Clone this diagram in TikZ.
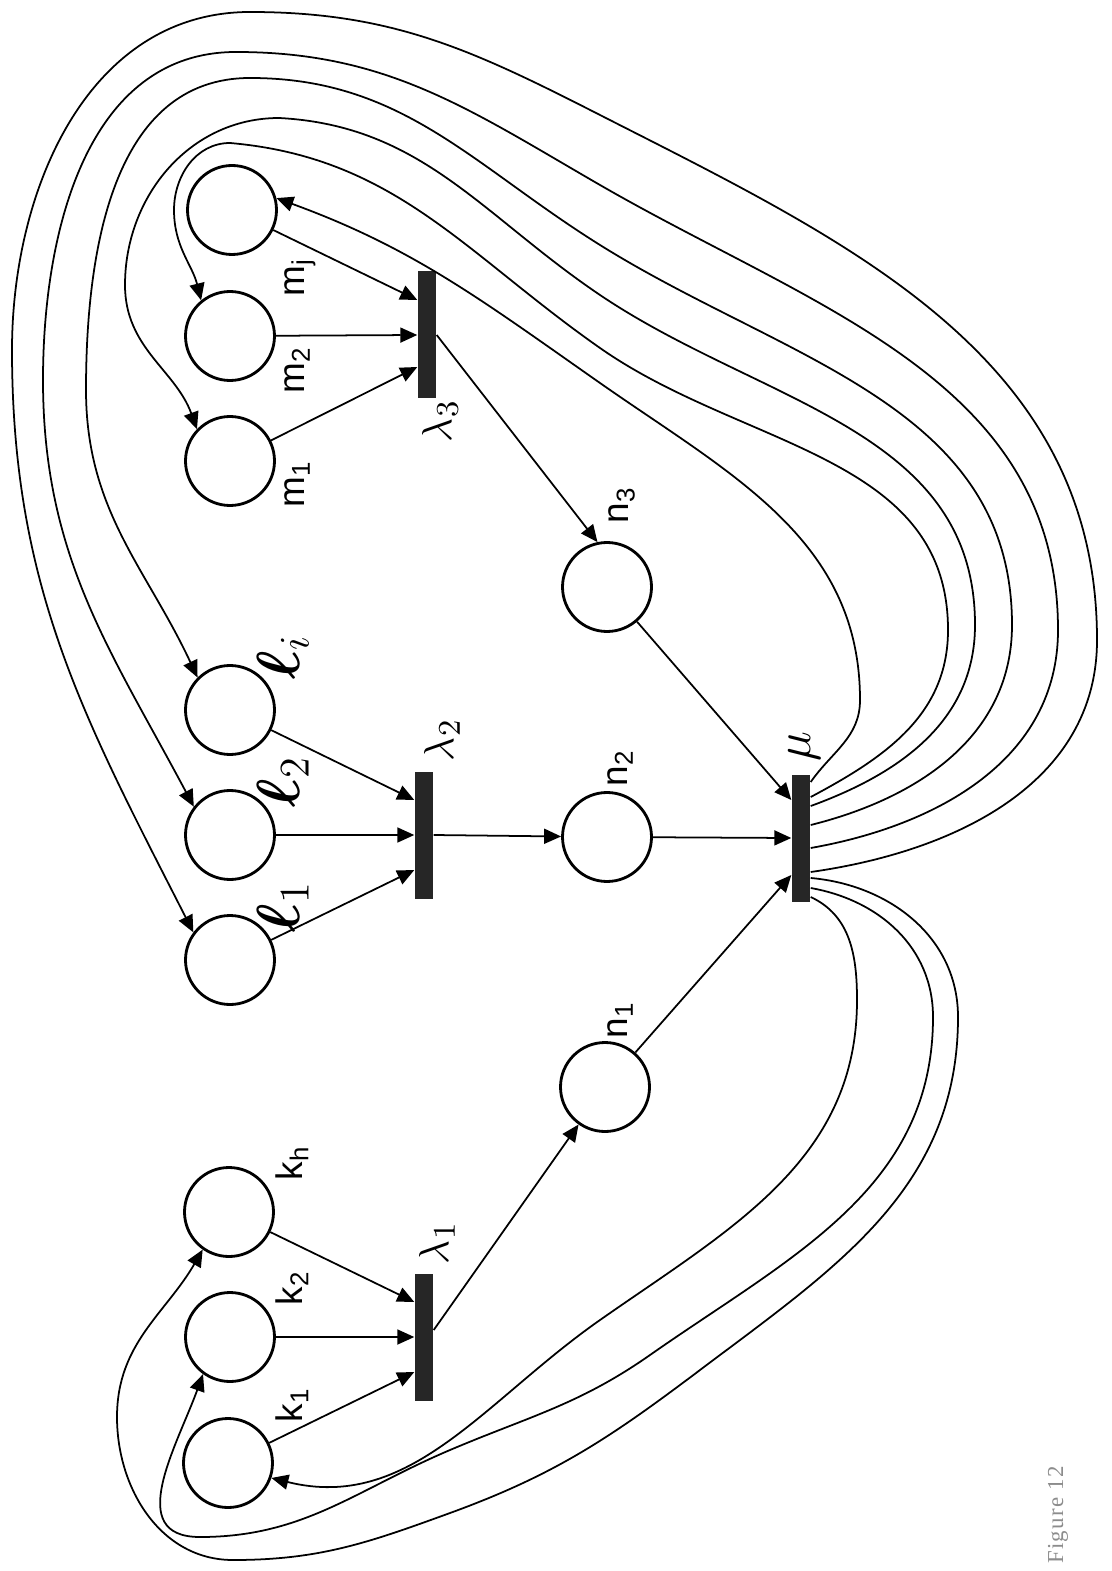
\documentclass[tikz,border=0pt]{standalone}
\usepackage{amsmath}
\usepackage{fontspec}
\setsansfont{Liberation Sans}
\newfontfamily\capfont{Liberation Serif}[LetterSpace=6]
\usepackage{tikz}
\usetikzlibrary{arrows.meta}

\begin{document}
\begin{tikzpicture}[
    >={Triangle[length=1.7mm,width=1.5mm]},
    place/.style={circle, draw, line width=0.8pt, minimum size=0.89cm, inner sep=0pt},
    trans/.style={rectangle, fill=black!85, minimum width=0.18cm, minimum height=1.27cm, inner sep=0pt},
    flow/.style={->, line width=0.5pt},
    lbl/.style={rotate=90, inner sep=0pt, font=\sffamily\fontsize{10.5}{12}\selectfont},
    greek/.style={rotate=90, inner sep=0pt, font=\fontsize{13}{14}\selectfont},
    ell/.style={rotate=90, inner sep=0pt, font=\fontsize{17}{18}\selectfont}
  ]
  \useasboundingbox (0,0) rectangle (11.12,-15.71);

  \node[place] (kone)   at (2.28,-14.63) {};
  \node[place] (ktwo)   at (2.30,-13.37) {};
  \node[place] (kh)     at (2.29,-12.12) {};
  \node[place] (lone)   at (2.30,-9.60)  {};
  \node[place] (ltwo)   at (2.30,-8.35)  {};
  \node[place] (li)     at (2.30,-7.10)  {};
  \node[place] (mone)   at (2.30,-4.61)  {};
  \node[place] (mtwo)   at (2.30,-3.36)  {};
  \node[place] (mj)     at (2.32,-2.10)  {};
  \node[place] (none)   at (6.05,-10.87) {};
  \node[place] (ntwo)   at (6.07,-8.37)  {};
  \node[place] (nthree) at (6.07,-5.87)  {};

  \node[trans] (lamone)   at (4.24,-13.37) {};
  \node[trans] (lamtwo)   at (4.24,-8.35)  {};
  \node[trans] (lamthree) at (4.27,-3.35)  {};
  \node[trans] (mu)       at (8.01,-8.38)  {};

  \draw[flow] (kh)   -- ([yshift=.35cm]lamone.west);
  \draw[flow] (ktwo) -- (lamone.west);
  \draw[flow] (kone) -- ([yshift=-.35cm]lamone.west);
  \draw[flow] ([yshift=.07cm]lamone.east) -- (none);

  \draw[flow] (li)   -- ([yshift=.35cm]lamtwo.west);
  \draw[flow] (ltwo) -- (lamtwo.west);
  \draw[flow] (lone) -- ([yshift=-.35cm]lamtwo.west);
  \draw[flow] (lamtwo.east) -- (ntwo);

  \draw[flow] (mj)   -- ([yshift=.35cm]lamthree.west);
  \draw[flow] (mtwo) -- (lamthree.west);
  \draw[flow] (mone) -- ([yshift=-.32cm]lamthree.west);
  \draw[flow] (lamthree.east) -- (nthree.102);

  \draw[flow] (nthree) -- ([yshift=.38cm]mu.west);
  \draw[flow] (ntwo)   -- (mu.west);
  \draw[flow] (none)   -- ([yshift=-.37cm]mu.west);

  \coordinate (pmj)   at ([yshift=.56cm]mu.east);
  \coordinate (pmtwo) at ([yshift=.41cm]mu.east);
  \coordinate (pmone) at ([yshift=.32cm]mu.east);
  \coordinate (pli)   at ([yshift=.13cm]mu.east);
  \coordinate (pltwo) at ([yshift=-.10cm]mu.east);
  \coordinate (plone) at ([yshift=-.34cm]mu.east);
  \coordinate (pkh)   at ([yshift=-.40cm]mu.east);
  \coordinate (pktwo) at ([yshift=-.50cm]mu.east);
  \coordinate (pkone) at ([yshift=-.59cm]mu.east);

  % feedback from mu back to the input places
  \draw[flow] (pmj) to[out=55,in=-90] (8.60,-7.00) to[out=90,in=-35] (6.00,-3.83)
    to[out=145,in=-20] (mj.15);
  \draw[flow] (pmtwo) to[out=28,in=-90] (9.48,-6.30) to[out=90,in=-35] (6.00,-3.48)
    to[out=145,in=-5] (2.30,-1.43) to[out=180,in=90] (1.74,-2.10)
    to[out=-90,in=104] (mtwo.129);
  \draw[flow] (pmone) to[out=20,in=-90] (9.75,-6.25) to[out=90,in=-34] (6.00,-2.95)
    to[out=146,in=-3] (2.79,-1.18) to[out=180,in=90] (1.25,-2.85)
    to[out=-90,in=110] (mone.136);
  \draw[flow] (pli) to[out=14,in=-90] (10.12,-6.25) to[out=90,in=-32] (6.00,-2.45)
    to[out=148,in=0] (2.50,-0.78) to[out=180,in=90] (0.86,-3.90)
    to[out=-90,in=115] (li.135);
  \draw[flow] (pltwo) to[out=10,in=-90] (10.58,-6.30) to[out=90,in=-30] (6.00,-1.85)
    to[out=150,in=0] (2.36,-0.52) to[out=180,in=90] (0.43,-3.80)
    to[out=-90,in=118] (ltwo.142);
  \draw[flow] (plone) to[out=8,in=-90] (10.97,-6.40) to[out=90,in=-27] (6.00,-1.15)
    to[out=153,in=0] (2.50,-0.12) to[out=180,in=90] (0.12,-3.50)
    to[out=-90,in=117] (lone.143);

  \draw[flow] (pkone) to[out=-25,in=90] (8.57,-10.00) to[out=-90,in=35] (6.00,-13.20)
    to[out=215,in=-14] (kone.-19);
  \draw[flow] (pktwo) to[out=-10,in=90] (9.33,-10.17) to[out=-90,in=35] (6.50,-13.55)
    to[out=215,in=23] (4.50,-14.50) to[out=203,in=0] (2.00,-15.37)
    to[out=180,in=-110,looseness=1.2] (ktwo.234);
  \draw[flow] (pkh) to[out=-5,in=90] (9.58,-10.17) to[out=-90,in=37] (7.00,-13.70)
    to[out=217,in=20] (4.50,-15.13) to[out=200,in=0] (2.33,-15.60)
    to[out=180,in=-90] (1.17,-14.17) to[out=90,in=-120] (kh.235);

  \node[lbl] (kone-l) at (2.92,-14.05) {k\textsubscript{1}};
  \node[lbl] (ktwo-l) at (2.92,-12.88) {k\textsubscript{2}};
  \node[lbl] (kh-l)   at (2.92,-11.63) {k\textsubscript{h}};
  \node[greek] (lamone-l) at (4.37,-12.43) {$\lambda_1$};

  \node[ell] (lone-l) at (2.83,-9.07) {$\boldsymbol{\ell}_1$};
  \node[ell] (ltwo-l) at (2.83,-7.82) {$\boldsymbol{\ell}_2$};
  \node[ell] (li-l)   at (2.83,-6.57) {$\boldsymbol{\ell}_i$};
  \node[greek] (lamtwo-l) at (4.42,-7.40) {$\lambda_2$};

  \node[lbl] (mone-l) at (2.97,-4.84) {m\textsubscript{1}};
  \node[lbl] (mtwo-l) at (2.97,-3.70) {m\textsubscript{2}};
  \node[lbl] (mj-l)   at (3.00,-2.77) {m\textsubscript{j}};
  \node[greek] (lamthree-l) at (4.40,-4.21) {$\lambda_3$};

  \node[lbl] (none-l)   at (6.20,-10.20) {n\textsubscript{1}};
  \node[lbl] (ntwo-l)   at (6.20,-7.68)  {n\textsubscript{2}};
  \node[lbl] (nthree-l) at (6.22,-5.05)  {n\textsubscript{3}};
  \node[greek, font=\fontsize{15}{16}\selectfont] (mu-l) at (8.05,-7.47) {$\mu$};

  \node[rotate=90, inner sep=0pt, text=black!45, font=\capfont\fontsize{6.5}{8}\selectfont]
    (caption) at (10.58,-15.15) {Figure 12};
\end{tikzpicture}
\end{document}
